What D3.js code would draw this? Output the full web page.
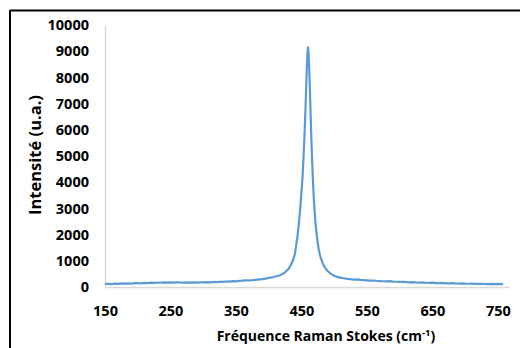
<!DOCTYPE html>
<html><head><meta charset="utf-8">
<script src="https://cdn.jsdelivr.net/npm/d3@7"></script>
<style>body{margin:0;background:#fff}svg{display:block}</style>
</head><body>
<svg id="c" width="520" height="348"></svg>
<script>
const freq = [150,155,160,165,170,175,180,185,190,195,200,205,210,215,220,225,230,235,240,245,250,255,260,265,270,275,280,285,290,295,300,305,310,315,320,325,330,335,340,345,350,355,360,365,370,375,380,385,390,395,400,405,410,415,420,425,430,433,436,438,440,442,444,446,448,450,451,452,453,454,455,456,457,458,459,460,461,462,463,464,465,466,467,468,469,470,471,472,474,476,478,480,483,486,490,495,500,505,510,515,520,525,530,535,540,545,550,555,560,565,570,575,580,585,590,595,600,605,610,615,620,625,630,635,640,645,650,655,660,665,670,675,680,685,690,695,700,705,710,715,720,725,730,735,740,745,750,755,758];
const intensity = [118,125,112,130,122,135,128,140,132,145,150,142,158,150,165,158,170,162,175,168,178,170,180,172,168,178,165,175,170,180,175,185,180,192,188,200,195,210,205,222,218,235,240,252,248,265,272,290,300,322,345,365,400,430,480,560,680,800,950,1090,1260,1600,1950,2400,2950,3600,3950,4350,4850,5400,6000,6700,7450,8200,8850,9150,8900,8250,7450,6600,5800,5050,4400,3850,3350,2950,2600,2300,1850,1500,1250,1070,880,740,610,500,430,385,350,335,310,300,285,290,270,262,255,245,248,232,228,220,214,222,205,200,192,196,185,180,188,172,170,176,162,158,165,150,148,155,142,140,146,135,130,138,126,124,130,120,118,124,114,112,120,110,116,108,112,105];
const xTicks = [150,250,350,450,550,650,750];
const yTicks = [0,1000,2000,3000,4000,5000,6000,7000,8000,9000,10000];
const xTitle = "Fréquence Raman Stokes (cm";
const xTitleSup = "-1";
const yTitle = "Intensité (u.a.)";

const svg = d3.select("#c");
const font = "'Open Sans', sans-serif";
const x = d3.scaleLinear().domain([150, 767]).range([105, 509]);
const y = d3.scaleLinear().domain([0, 10000]).range([287, 25]);

// frame (top + left)
svg.append("line").attr("x1",10).attr("x2",520).attr("y1",10.5).attr("y2",10.5).attr("stroke","#000").attr("stroke-width",2);
svg.append("line").attr("x1",10).attr("x2",10).attr("y1",10).attr("y2",348).attr("stroke","#000").attr("stroke-width",2);

// axes
const xa = svg.append("g").attr("transform","translate(0,287)")
  .call(d3.axisBottom(x).tickValues(xTicks).tickSize(0).tickPadding(19).tickFormat(d3.format("d")));
xa.select(".domain").attr("stroke","#d9d9d9").attr("stroke-width",1.5);
xa.selectAll("text").attr("font-family",font).attr("font-weight",700).attr("font-size","14.5px").attr("fill","#000");

const ya = svg.append("g").attr("transform","translate(105,0)")
  .call(d3.axisLeft(y).tickValues(yTicks).tickSize(0).tickPadding(16).tickFormat(d3.format("d")));
ya.select(".domain").attr("stroke","#d9d9d9").attr("stroke-width",1.5);
ya.selectAll("text").attr("font-family",font).attr("font-weight",700).attr("font-size","14.5px").attr("fill","#000");

// line
const pts = freq.map((f,i)=>[f,intensity[i]]);
svg.append("path").datum(pts)
  .attr("fill","none").attr("stroke","#5b9bd5").attr("stroke-width",2.2).attr("stroke-linejoin","round")
  .attr("d", d3.line().x(d=>x(d[0])).y(d=>y(d[1])));

// titles
const xt = svg.append("text").attr("x",326).attr("y",341).attr("text-anchor","middle")
  .attr("font-family",font).attr("font-weight",700).attr("font-size","14px").attr("fill","#000");
xt.append("tspan").text(xTitle);
xt.append("tspan").attr("dy",-5).attr("font-size","9.5px").text(xTitleSup);
xt.append("tspan").attr("dy",5).text(")");

svg.append("text").attr("transform","translate(41,155) rotate(-90)").attr("text-anchor","middle")
  .attr("font-family",font).attr("font-weight",700).attr("font-size","16.5px").attr("fill","#000").text(yTitle);
</script>
</body></html>
